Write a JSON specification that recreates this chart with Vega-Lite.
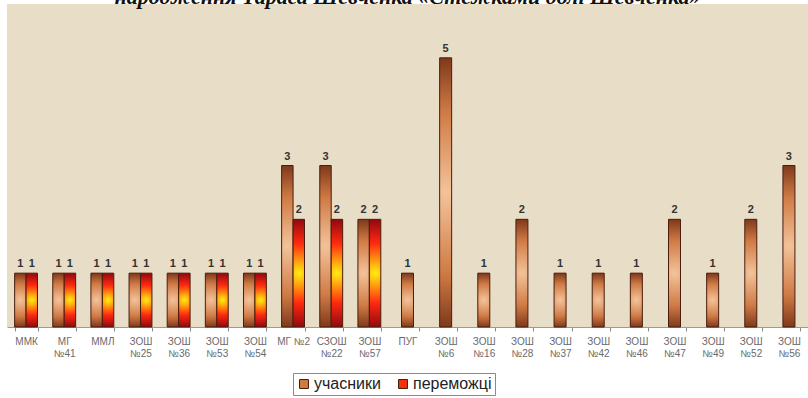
{
  "$schema": "https://vega.github.io/schema/vega-lite/v6.json",
  "autosize": {"type": "none"},
  "width": 801,
  "height": 323,
  "padding": {"left": 7, "top": 4, "right": 0, "bottom": 71},
  "background": "white",
  "title": {
    "text": "народження Тараса Шевченка «Стежками долі Шевченка»",
    "font": "Liberation Serif",
    "fontStyle": "italic",
    "fontWeight": "bold",
    "fontSize": 22,
    "color": "#111111",
    "anchor": "middle",
    "baseline": "top",
    "offset": -5
  },
  "config": {
    "view": {"fill": "#e8ddc7", "stroke": null},
    "axis": {"labelFont": "Liberation Sans"},
    "legend": {"labelFont": "Liberation Sans"}
  },
  "data": {
    "values": [
      {"school": "ММК", "series": "учасники", "value": 1},
      {"school": "ММК", "series": "переможці", "value": 1},
      {"school": "МГ №41", "series": "учасники", "value": 1},
      {"school": "МГ №41", "series": "переможці", "value": 1},
      {"school": "ММЛ", "series": "учасники", "value": 1},
      {"school": "ММЛ", "series": "переможці", "value": 1},
      {"school": "ЗОШ №25", "series": "учасники", "value": 1},
      {"school": "ЗОШ №25", "series": "переможці", "value": 1},
      {"school": "ЗОШ №36", "series": "учасники", "value": 1},
      {"school": "ЗОШ №36", "series": "переможці", "value": 1},
      {"school": "ЗОШ №53", "series": "учасники", "value": 1},
      {"school": "ЗОШ №53", "series": "переможці", "value": 1},
      {"school": "ЗОШ №54", "series": "учасники", "value": 1},
      {"school": "ЗОШ №54", "series": "переможці", "value": 1},
      {"school": "МГ №2", "series": "учасники", "value": 3},
      {"school": "МГ №2", "series": "переможці", "value": 2},
      {"school": "СЗОШ №22", "series": "учасники", "value": 3},
      {"school": "СЗОШ №22", "series": "переможці", "value": 2},
      {"school": "ЗОШ №57", "series": "учасники", "value": 2},
      {"school": "ЗОШ №57", "series": "переможці", "value": 2},
      {"school": "ПУГ", "series": "учасники", "value": 1},
      {"school": "ЗОШ №6", "series": "учасники", "value": 5},
      {"school": "ЗОШ №16", "series": "учасники", "value": 1},
      {"school": "ЗОШ №28", "series": "учасники", "value": 2},
      {"school": "ЗОШ №37", "series": "учасники", "value": 1},
      {"school": "ЗОШ №42", "series": "учасники", "value": 1},
      {"school": "ЗОШ №46", "series": "учасники", "value": 1},
      {"school": "ЗОШ №47", "series": "учасники", "value": 2},
      {"school": "ЗОШ №49", "series": "учасники", "value": 1},
      {"school": "ЗОШ №52", "series": "учасники", "value": 2},
      {"school": "ЗОШ №56", "series": "учасники", "value": 3}
    ]
  },
  "transform": [
    {"joinaggregate": [{"op": "count", "as": "n"}], "groupby": ["school"]}
  ],
  "encoding": {
    "x": {
      "field": "school",
      "type": "nominal",
      "title": null,
      "scale": {
        "domain": ["ММК", "МГ №41", "ММЛ", "ЗОШ №25", "ЗОШ №36", "ЗОШ №53", "ЗОШ №54", "МГ №2", "СЗОШ №22", "ЗОШ №57", "ПУГ", "ЗОШ №6", "ЗОШ №16", "ЗОШ №28", "ЗОШ №37", "ЗОШ №42", "ЗОШ №46", "ЗОШ №47", "ЗОШ №49", "ЗОШ №52", "ЗОШ №56"],
        "paddingInner": 0.4,
        "paddingOuter": 0.2
      },
      "axis": {
        "labelAngle": 0,
        "labelFontSize": 10,
        "labelColor": "#6a6a6a",
        "labelLineHeight": 12,
        "labelPadding": 5,
        "labelExpr": "datum.label == 'МГ №2' ? datum.label : split(datum.label, ' ')",
        "tickBand": "extent",
        "tickSize": 4,
        "tickColor": "#8a8a8a",
        "domainColor": "#9a9a9a",
        "grid": false
      }
    },
    "y": {
      "field": "value",
      "type": "quantitative",
      "scale": {"domain": [0, 6]},
      "axis": null
    }
  },
  "layer": [
    {
      "transform": [{"filter": "datum.n == 2"}],
      "mark": {"type": "bar", "opacity": 0},
      "encoding": {
        "xOffset": {"field": "series", "type": "nominal", "scale": {"domain": ["учасники", "переможці"], "paddingInner": 0}},
        "fill": {
          "field": "series",
          "type": "nominal",
          "scale": {"domain": ["учасники", "переможці"], "range": ["#d07a45", "#f5300e"]},
          "legend": {
            "orient": "none",
            "legendX": 286,
            "legendY": 369,
            "direction": "horizontal",
            "title": null,
            "strokeColor": "#8a8a8a",
            "fillColor": "white",
            "padding": 3,
            "symbolType": "square",
            "symbolSize": 80,
            "symbolStrokeColor": "#4a1e0c",
            "symbolStrokeWidth": 1,
            "symbolOpacity": 1,
            "labelFontSize": 16,
            "labelColor": "#222222",
            "labelOffset": 2,
            "columnPadding": 14
          }
        }
      }
    },
    {
      "transform": [{"filter": "datum.n == 2 && datum.series == 'учасники'"}],
      "mark": {"type": "bar", "stroke": "#4a1e0c", "strokeWidth": 1,
        "fill": {"gradient": "radial", "x1": 0.5, "y1": 0.5, "r1": 0, "x2": 0.5, "y2": 0.5, "r2": 0.55,
          "stops": [{"offset": 0, "color": "#f3c39a"}, {"offset": 0.55, "color": "#cf7a45"}, {"offset": 1, "color": "#6b2810"}]}},
      "encoding": {
        "xOffset": {"field": "series", "type": "nominal", "scale": {"domain": ["учасники", "переможці"], "paddingInner": 0}}
      }
    },
    {
      "transform": [{"filter": "datum.n == 2 && datum.series == 'переможці'"}],
      "mark": {"type": "bar", "stroke": "#4a1e0c", "strokeWidth": 1,
        "fill": {"gradient": "radial", "x1": 0.5, "y1": 0.5, "r1": 0, "x2": 0.5, "y2": 0.5, "r2": 0.55,
          "stops": [{"offset": 0, "color": "#ffee10"}, {"offset": 0.5, "color": "#ff2a10"}, {"offset": 1, "color": "#7a0010"}]}},
      "encoding": {
        "xOffset": {"field": "series", "type": "nominal", "scale": {"domain": ["учасники", "переможці"], "paddingInner": 0}}
      }
    },
    {
      "transform": [{"filter": "datum.n == 1"}],
      "mark": {"type": "bar", "size": 12, "stroke": "#4a1e0c", "strokeWidth": 1,
        "fill": {"gradient": "radial", "x1": 0.5, "y1": 0.5, "r1": 0, "x2": 0.5, "y2": 0.5, "r2": 0.55,
          "stops": [{"offset": 0, "color": "#f3c39a"}, {"offset": 0.55, "color": "#cf7a45"}, {"offset": 1, "color": "#6b2810"}]}}
    },
    {
      "transform": [{"filter": "datum.n == 2"}],
      "mark": {"type": "text", "baseline": "bottom", "dy": -4, "fontSize": 11, "fontWeight": "bold", "font": "Liberation Sans", "fill": "#333333"},
      "encoding": {
        "xOffset": {"field": "series", "type": "nominal", "scale": {"domain": ["учасники", "переможці"], "paddingInner": 0}},
        "text": {"field": "value", "type": "quantitative"}
      }
    },
    {
      "transform": [{"filter": "datum.n == 1"}],
      "mark": {"type": "text", "baseline": "bottom", "dy": -4, "fontSize": 11, "fontWeight": "bold", "font": "Liberation Sans", "fill": "#333333"},
      "encoding": {
        "text": {"field": "value", "type": "quantitative"}
      }
    }
  ]
}
